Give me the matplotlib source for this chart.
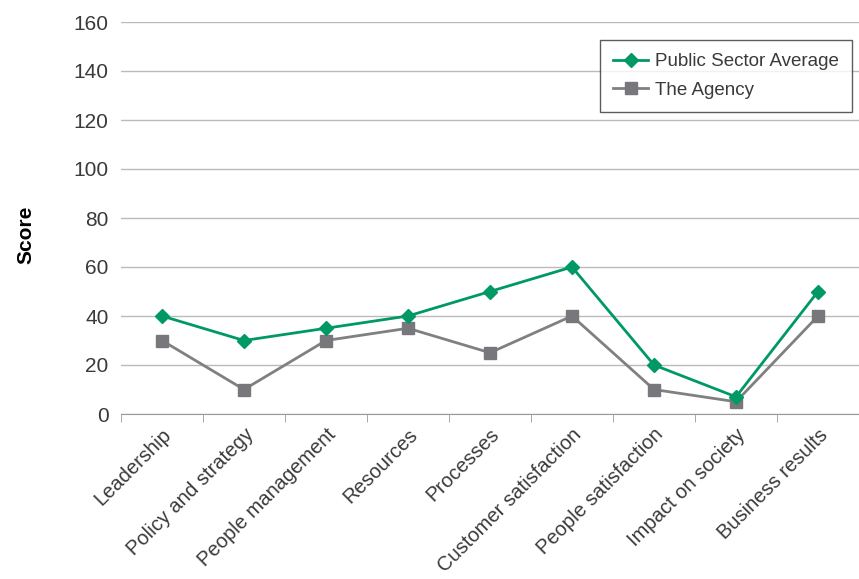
import numpy as np
import matplotlib.pyplot as plt

categories = ["Leadership", "Policy and strategy", "People management", "Resources",
              "Processes", "Customer satisfaction", "People satisfaction",
              "Impact on society", "Business results"]
public_avg = [40, 30, 35, 40, 50, 60, 20, 7, 50]
agency = [30, 10, 30, 35, 25, 40, 10, 5, 40]

plt.rcParams['font.family'] = ['Liberation Sans', 'DejaVu Sans']
txt = '#3a3a3a'

fig = plt.figure(figsize=(8.59, 5.79), dpi=100)
ax = fig.add_axes([121 / 859, 1 - 414 / 579, 738 / 859, 392 / 579])

x = np.arange(len(categories))
ax.plot(x, public_avg, color='#009966', lw=2, marker='D', ms=7.5, label='Public Sector Average', zorder=4)
ax.plot(x, agency, color='#808080', lw=2, marker='s', ms=9, mfc='#77777c', mec='#77777c',
        label='The Agency', zorder=3)

ax.set_xlim(-0.5, len(categories) - 0.5)
ax.set_ylim(0, 160)
ax.set_yticks(np.arange(0, 161, 20))
ax.yaxis.grid(True, color='#bbbbbb', lw=1)
ax.set_axisbelow(True)
for s in ['top', 'right', 'left']:
    ax.spines[s].set_visible(False)
ax.spines['bottom'].set_color('#999999')
ax.tick_params(axis='y', length=0, labelsize=15, labelcolor=txt, pad=9)

ax.set_xticks(x)
ax.set_xticklabels(categories, rotation=45, ha='right', rotation_mode='anchor',
                   fontsize=14.5, color=txt)
ax.tick_params(axis='x', length=0, pad=8)
ax.set_xticks(np.arange(-0.5, len(categories)), minor=True)
ax.tick_params(axis='x', which='minor', length=6, color='#999999', direction='out')

ax.set_ylabel('Score', fontsize=15, fontweight='bold', color='black')
ax.yaxis.set_label_coords((35 - 121) / 738, (414 - 235) / 392)

leg = ax.legend(loc='upper right', bbox_to_anchor=((852 - 121) / 738, (414 - 40) / 392),
                borderaxespad=0, frameon=True, fancybox=False, fontsize=13.5,
                handlelength=1.9, borderpad=0.7, labelspacing=0.6, handletextpad=0.35)
leg.get_frame().set_edgecolor('#333333')
leg.get_frame().set_linewidth(1)
for t in leg.get_texts():
    t.set_color(txt)

fig.savefig('out.png', dpi=100)
